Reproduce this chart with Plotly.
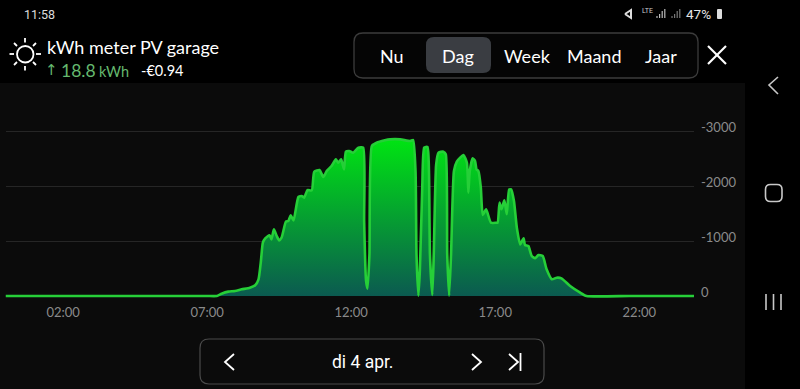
import plotly.graph_objects as go

W, H = 800, 389
minutes = [0, 120, 300, 420, 440, 450, 464, 478, 492, 509, 520, 527, 532, 536, 541, 550, 554, 559, 565, 570, 575, 584, 589, 594, 600,
           610, 617, 622, 629, 638, 643, 654, 662, 669, 679, 688, 693, 699, 705, 709, 716, 724, 735, 745, 747, 751, 754, 758, 763,
           773, 790, 801, 822, 843, 849, 854, 856, 860, 863, 868, 872, 879, 882, 884, 889, 892, 897, 902, 912, 917, 920, 924, 928,
           934, 940, 947, 954, 961, 964, 967, 973, 978, 981, 985, 990, 994, 1001, 1011, 1022, 1025, 1029, 1033, 1039, 1044, 1049,
           1053, 1059, 1065, 1072, 1079, 1082, 1089, 1096, 1103, 1110, 1119, 1127, 1138, 1148, 1158, 1176, 1197, 1210, 1300, 1434]
power = [0, 0, 0, 0, 0, -42, -79, -91, -121, -150, -194, -303, -636, -970, -1048, -1103, -1030, -1212, -1090, -1012, -1060, -1351, -1363, -1466, -1375,
         -1800, -1818, -1788, -1927, -1921, -2260, -2290, -2163, -2272, -2363, -2484, -2424, -2484, -2303, -2624, -2636, -2606, -2697, -2697, -1363, -273, -133, -757, -2727,
         -2787, -2830, -2848, -2848, -2818, -2836, -2272, -757, -5, -454, -1970, -2697, -2709, -2272, -757, -18, -757, -2394, -2606, -2624, -2576, -757, -5, -757,
         -2272, -2442, -2515, -2563, -2424, -1879, -2272, -2503, -2454, -2303, -2272, -1970, -1473, -1576, -1333, -1333, -1333, -1697, -1576, -1739, -1485, -1939,
         -1939, -1727, -1242, -939, -1048, -927, -909, -727, -685, -745, -727, -485, -303, -333, -321, -182, -61, 0, 0, 0]
tick_hours = [120, 420, 720, 1020, 1320]
tick_labels = ["02:00", "07:00", "12:00", "17:00", "22:00"]
y_ticks = [0, -1000, -2000, -3000]
y_labels = ["0", "-1000", "-2000", "-3000"]


def px(x):
    return x / W


def py(y):
    return 1 - y / H


shapes = []
annotations = []


def rect(x0, y0, x1, y1, fill=None, border=None, r=0, width=1):
    path = (f"M {px(x0+r)} {py(y0)} L {px(x1-r)} {py(y0)} Q {px(x1)} {py(y0)} {px(x1)} {py(y0+r)} "
            f"L {px(x1)} {py(y1-r)} Q {px(x1)} {py(y1)} {px(x1-r)} {py(y1)} "
            f"L {px(x0+r)} {py(y1)} Q {px(x0)} {py(y1)} {px(x0)} {py(y1-r)} "
            f"L {px(x0)} {py(y0+r)} Q {px(x0)} {py(y0)} {px(x0+r)} {py(y0)} Z")
    shapes.append(dict(type="path", xref="paper", yref="paper", path=path, layer="below",
                       fillcolor=fill or "rgba(0,0,0,0)",
                       line=dict(color=border or "rgba(0,0,0,0)", width=width if border else 0)))


def poly(pts, color="#ffffff", width=1.5):
    path = "M " + " L ".join(f"{px(a)} {py(b)}" for a, b in pts)
    shapes.append(dict(type="path", xref="paper", yref="paper", path=path, layer="above",
                       line=dict(color=color, width=width)))


def text(s, x, y, size, color="#ffffff", anchor="left", font="Lato"):
    annotations.append(dict(text=s, x=px(x), y=py(y), xref="paper", yref="paper", showarrow=False,
                            xanchor=anchor, yanchor="middle", font=dict(family=font, size=size, color=color),
                            borderpad=0, borderwidth=0))


# Panel behind chart
rect(0, 83, 745, 389, fill="#0b0b0b")

# Status bar
text("11:58", 24, 14, 12.5, "#dddddd", font="Roboto")
text("47%", 686, 14, 13.5, "#e6e6e6", anchor="left", font="Roboto")
rect(717, 9, 722, 19, fill="#dddddd", r=1)
poly([(625, 14), (631, 10), (631, 18), (625, 14)], "#dddddd", 2)
text("LTE", 642, 11, 7, "#cccccc", "left", "Roboto")
for base in (657, 672):
    for i, h in enumerate((2, 4, 7, 9)):
        poly([(base + i * 2.6, 18), (base + i * 2.6, 18 - h)], "#bbbbbb" if base == 657 else "#777777", 1.2)

# Sun icon
shapes.append(dict(type="circle", xref="paper", yref="paper", layer="above",
                   x0=px(17), x1=px(33.5), y0=py(62.5), y1=py(46), line=dict(color="#ffffff", width=1.8)))
for a, b, c, d in [(25, 38, 25, 42.5), (25, 66, 25, 70.5), (9.5, 54, 14, 54), (36, 54, 41, 54),
                   (14, 43, 17, 46), (33, 46, 36, 43), (14, 65, 17, 62), (33, 62, 36, 65)]:
    poly([(a, b), (c, d)], "#ffffff", 1.8)

# Header
text("kWh meter PV garage", 47, 47, 18, "#ffffff")
text("↑", 45, 70, 15, "#65b96f", font="DejaVu Sans")
text("18.8", 61, 70, 17.5, "#65b96f")
text("kWh", 99, 71, 14.5, "#65b96f")
text("-€0.94", 141, 70, 14.5, "#ffffff")

# Range selector
rect(354, 33, 698, 78, fill="#050505", border="#3c3c3c", r=9, width=1.3)
rect(426, 37, 491, 73, fill="#3a3d42", r=8)
for label, cx in [("Nu", 392), ("Dag", 458), ("Week", 527), ("Maand", 594), ("Jaar", 661)]:
    text(label, cx, 55.5, 18, "#ffffff", "center")
poly([(708, 46), (726, 64)], "#ffffff", 2.2)
poly([(726, 46), (708, 64)], "#ffffff", 2.2)

# Date navigator
rect(200, 339, 544, 384, fill="#0b0b0b", border="#4a4a4a", r=9, width=1.2)
text("di 4 apr.", 362, 362, 17.5, "#ffffff", "center", "Roboto")
poly([(234, 354), (225, 362), (234, 370)], "#ffffff", 1.8)
poly([(472, 354), (481, 362), (472, 370)], "#ffffff", 1.8)
poly([(509, 354), (518, 362), (509, 370)], "#ffffff", 1.8)
poly([(520.5, 353), (520.5, 371)], "#ffffff", 1.8)

# Android nav
poly([(778, 77), (769, 85), (778, 94)], "#c8c8c8", 1.6)
rect(765.5, 184.5, 782, 201.5, border="#c8c8c8", r=5, width=1.6)
for x in (766, 773.5, 781):
    poly([(x, 294), (x, 310)], "#c8c8c8", 1.6)

fig = go.Figure(go.Scatter(
    x=minutes, y=power, mode="lines", fill="tozeroy",
    line=dict(color="#26cf38", width=2.6, shape="spline", smoothing=0.5),
    fillgradient=dict(type="vertical", start=0, stop=-2850,
                      colorscale=[[0, "#0b5a50"], [1, "#00e412"]]),
    hoverinfo="skip", showlegend=False,
))

fig.update_layout(
    width=W, height=H, margin=dict(l=0, r=0, t=0, b=0, pad=0),
    paper_bgcolor="#000000", plot_bgcolor="rgba(0,0,0,0)",
    shapes=shapes, annotations=annotations, showlegend=False,
    xaxis=dict(domain=[px(5.5), px(694)], range=[0, 1434], tickvals=tick_hours, ticktext=tick_labels,
               showgrid=False, zeroline=False, showline=False, ticks="", ticklabelstandoff=3,
               tickfont=dict(family="Lato", size=13, color="#8a8a8a")),
    yaxis=dict(domain=[py(300), py(100)], range=[73, -3564], tickvals=y_ticks, ticktext=y_labels,
               side="right", showgrid=True, gridcolor="#262626", gridwidth=1.3, zeroline=False,
               showline=False, ticks="", ticklabelshift=4, ticklabelstandoff=6,
               tickfont=dict(family="Lato", size=13, color="#8a8a8a")),
)

fig.write_html("out.html", config={"displayModeBar": False},
               post_script="document.body.style.margin='0';document.documentElement.style.overflow='hidden';document.body.style.background='#000';")
